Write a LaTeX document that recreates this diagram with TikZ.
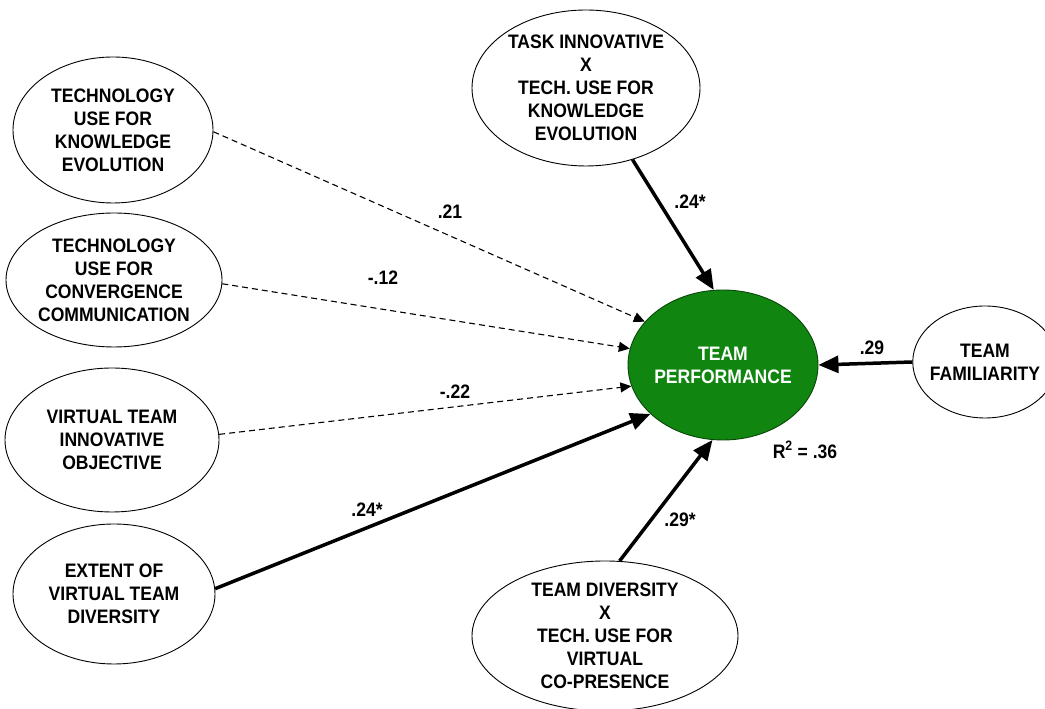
\documentclass[tikz,border=0pt]{standalone}
\usepackage{fontspec}
\setmainfont[FakeStretch=0.9]{Liberation Sans}
\usetikzlibrary{shapes.geometric,arrows.meta}
\definecolor{tpgreen}{RGB}{16,134,16}
\definecolor{tpborder}{RGB}{10,70,10}
\begin{document}
\begin{tikzpicture}[x=1pt,y=1pt,
  lat/.style={ellipse,draw=black,line width=0.9pt,fill=white,inner sep=-4pt,align=center,
    font=\fontsize{19.5}{23}\selectfont\bfseries},
  pathdash/.style={dash pattern=on 6pt off 4pt,line width=1.1pt,-{Triangle[length=11pt,width=10pt]}},
  pathsolid/.style={line width=3.5pt,-{Triangle[length=20pt,width=17pt]}},
  coef/.style={font=\fontsize{19.5}{22}\selectfont\bfseries,inner sep=0pt}]
\useasboundingbox (0,0) rectangle (1045,709);
\fill[white] (0,0) rectangle (1045,709);

\node[lat,minimum width=200pt,minimum height=146pt] (tke) at (113,579)
  {TECHNOLOGY\\USE FOR\\KNOWLEDGE\\EVOLUTION};
\node[lat,minimum width=216pt,minimum height=134pt] (tcc) at (114,429)
  {TECHNOLOGY\\USE FOR\\CONVERGENCE\\COMMUNICATION};
\node[lat,minimum width=214pt,minimum height=144pt] (vtio) at (112,269)
  {VIRTUAL TEAM\\INNOVATIVE\\OBJECTIVE};
\node[lat,minimum width=202pt,minimum height=140pt] (ext) at (114,115)
  {EXTENT OF\\VIRTUAL TEAM\\DIVERSITY};
\node[lat,minimum width=228pt,minimum height=156pt] (task) at (586,621)
  {TASK INNOVATIVE\\X\\TECH. USE FOR\\KNOWLEDGE\\EVOLUTION};
\node[lat,minimum width=266pt,minimum height=150pt] (td) at (605,73)
  {TEAM DIVERSITY\\X\\TECH. USE FOR\\VIRTUAL\\CO-PRESENCE};
\node[lat,minimum width=126pt,minimum height=112pt] (fam) at (985,347)
  {TEAM\\FAMILIARITY};
\node[lat,fill=tpgreen,draw=tpborder,text=white,minimum width=190pt,minimum height=150pt] (tp) at (723,344)
  {TEAM\\PERFORMANCE};

\draw[pathdash] (tke.-1) -- (tp.151);
\draw[pathdash] (tcc.-2) -- (tp.170);
\draw[pathdash] (vtio.3) -- (tp.193.5);
\draw[pathsolid] (ext.3) -- (tp.214.6);
\draw[pathsolid] (td.79) -- (tp.262);
\draw[pathsolid] (task.-57) -- (tp.97.6);
\draw[pathsolid] (fam.180) -- (tp.0);

\node[coef] (c1) at (450,497) {.21};
\node[coef] (c2) at (383,431) {-.12};
\node[coef] (c3) at (455,317) {-.22};
\node[coef] (c4) at (367,199) {.24*};
\node[coef] (c5) at (690,507) {.24*};
\node[coef] (c6) at (872,361) {.29};
\node[coef] (c7) at (680,189) {.29*};
\node[coef] (r2) at (805,259) {R\textsuperscript{2} = .36};
\end{tikzpicture}
\end{document}
